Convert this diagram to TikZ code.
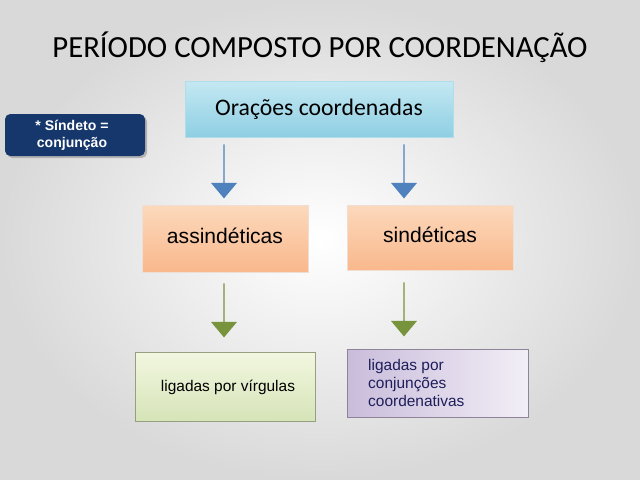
\documentclass[tikz,border=0pt]{standalone}
\usepackage{fontspec}
\setmainfont{Liberation Sans}
\newfontfamily\carlitofont{Carlito}
\usetikzlibrary{shapes.arrows}
\begin{document}
\begin{tikzpicture}[x=0.02cm,y=-0.02cm,
 barrow/.style={single arrow, draw=none, fill=#1, minimum width=26*0.02cm, single arrow head extend=6*0.02cm, single arrow tip angle=80, inner xsep=0pt, inner ysep=7*0.02cm, shape border rotate=270, minimum height=54*0.02cm}]
\definecolor{bg}{HTML}{D9D9D9}
\shade[inner color=white,outer color=bg] (0,0) rectangle (640,480);
\useasboundingbox (0,0) rectangle (640,480);
\node (title) at (320,47) {\carlitofont\fontsize{17.5}{20}\selectfont PERÍODO COMPOSTO POR COORDENAÇÃO};
% top box
\definecolor{c1}{HTML}{C4E8F2}\definecolor{c2}{HTML}{8ECFE3}
\shade[top color=c1, bottom color=c2, draw=c2!70!white] (185,81) rectangle (453,137);
\node (top) at (319,109) {\carlitofont\fontsize{13.5}{15}\selectfont Orações coordenadas};
% side box
\fill[black!30,rounded corners=3] (7,116) rectangle (147,158);
\fill[fill={rgb,255:red,22;green,55;blue,107},rounded corners=3] (5,114) rectangle (145,156);
\node[text=white,align=center,font=\fontsize{8}{9.5}\selectfont\bfseries] (side) at (72,135) {* Síndeto =\\conjunção};
% orange boxes
\definecolor{o1}{HTML}{FCD9BC}\definecolor{o2}{HTML}{F9B88C}
\shade[top color=o1,bottom color=o2,draw=o2!80!black!30!white] (142,205) rectangle (308,272);
\node (as) at (225,236) {\fontsize{12}{14}\selectfont assindéticas};
\shade[top color=o1,bottom color=o2,draw=o2!80!black!30!white] (347,205) rectangle (513,270);
\node (si) at (430,235) {\fontsize{12}{14}\selectfont sindéticas};
% bottom boxes
\definecolor{g1}{HTML}{F2F7E0}\definecolor{g2}{HTML}{D6E4B8}
\shade[top color=g1,bottom color=g2,draw=g2!70!black] (135,352) rectangle (315,421);
\node[font=\fontsize{8.8}{11}\selectfont] (lv) at (228,387) {ligadas por vírgulas};
\definecolor{p1}{HTML}{C9BCDB}\definecolor{p2}{HTML}{F2EEF6}
\shade[left color=p1,right color=p2,draw=p1!70!black] (347,349) rectangle (528,417);
\node[align=left,text={rgb,255:red,30;green,30;blue,90},anchor=west,font=\fontsize{8.8}{10.5}\selectfont] (lc) at (362,383) {ligadas por\\conjunções\\coordenativas};
% arrows
\definecolor{ab}{HTML}{4F81BD}\definecolor{ag}{HTML}{77933C}
\node[barrow=ab] (a1) at (224,171) {};
\node[barrow=ab] (a2) at (404,171) {};
\node[barrow=ag] (a3) at (224,310) {};
\node[barrow=ag] (a4) at (404,309) {};
\end{tikzpicture}
\end{document}
